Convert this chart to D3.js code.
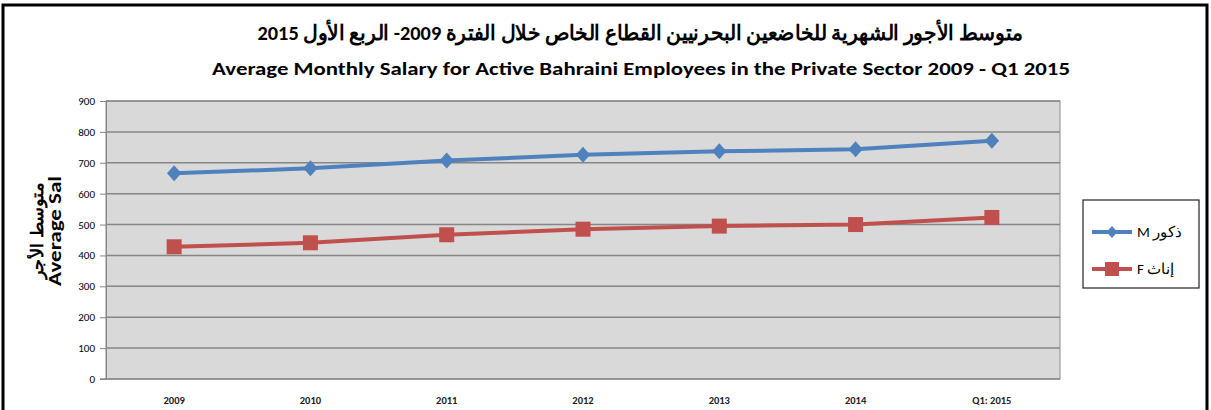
<!DOCTYPE html>
<html>
<head>
<meta charset="utf-8">
<script src="https://d3js.org/d3.v7.min.js"></script>
<style>
  body { margin: 0; background: #fff; }
  svg { display: block; }
</style>
</head>
<body>
<svg width="1211" height="410"></svg>
<script>
// data
const categories = ["2009", "2010", "2011", "2012", "2013", "2014", "Q1: 2015"];
const maleValues = [666, 682, 707, 726, 737, 744, 771];
const femaleValues = [428, 441, 467, 485, 495, 500, 523];
const yTicks = [0, 100, 200, 300, 400, 500, 600, 700, 800, 900];

const svg = d3.select("svg");
const font = "Calibri, 'Liberation Sans Narrow', 'Open Sans', sans-serif";

// outer frame
svg.append("path")
    .attr("d", "M3,410 V5 H1207 V410")
    .attr("fill", "none")
    .attr("stroke", "#000")
    .attr("stroke-width", 3);

const plot = {left: 106, right: 1060, top: 101, bottom: 379};

const x = d3.scaleBand().domain(categories).range([plot.left, plot.right]);
const y = d3.scaleLinear().domain([0, 900]).range([plot.bottom, plot.top]);

// plot background
svg.append("rect")
    .attr("x", plot.left).attr("y", plot.top)
    .attr("width", plot.right - plot.left).attr("height", plot.bottom - plot.top)
    .attr("fill", "#d9d9d9")
    .attr("stroke", "#8c8c8c");

// gridlines
svg.append("g").selectAll("line")
    .data(yTicks.filter(d => d > 0))
    .enter().append("line")
    .attr("x1", plot.left).attr("x2", plot.right)
    .attr("y1", d => y(d)).attr("y2", d => y(d))
    .attr("stroke", "#868686")
    .attr("stroke-width", 1.5);

// y axis
const yAxis = svg.append("g")
    .attr("transform", "translate(" + plot.left + ",0)")
    .call(d3.axisLeft(y).tickValues(yTicks).tickSize(6).tickPadding(5));
yAxis.select(".domain").attr("stroke", "#868686");
yAxis.selectAll(".tick line").attr("stroke", "#868686");
yAxis.selectAll("text").style("font-family", font).style("font-size", "11px").attr("fill", "#000");

// x axis line
svg.append("line")
    .attr("x1", plot.left - 6).attr("x2", plot.right)
    .attr("y1", plot.bottom).attr("y2", plot.bottom)
    .attr("stroke", "#868686").attr("stroke-width", 1.5);

svg.append("g").selectAll("text")
    .data(categories)
    .enter().append("text")
    .attr("x", d => x(d) + x.bandwidth() / 2)
    .attr("y", 404)
    .attr("text-anchor", "middle")
    .style("font-family", font)
    .style("font-size", "10.5px")
    .style("font-weight", "bold")
    .attr("fill", "#222")
    .text(d => d);

// lines
const line = d3.line()
    .x((d, i) => x(categories[i]) + x.bandwidth() / 2)
    .y(d => y(d));

svg.append("path").datum(femaleValues)
    .attr("d", line).attr("fill", "none")
    .attr("stroke", "#c0504d").attr("stroke-width", 4);
svg.append("path").datum(maleValues)
    .attr("d", line).attr("fill", "none")
    .attr("stroke", "#4f81bd").attr("stroke-width", 4);

svg.append("g").selectAll("rect")
    .data(femaleValues)
    .enter().append("rect")
    .attr("x", (d, i) => x(categories[i]) + x.bandwidth() / 2 - 7.5)
    .attr("y", d => y(d) - 7.5)
    .attr("width", 15).attr("height", 15)
    .attr("fill", "#c0504d");

// excel style diamond, a bit wider than d3's
const excelDiamond = {
    draw(context, size) {
        const h = Math.sqrt(size) / 2;
        context.moveTo(0, -h);
        context.lineTo(h * 0.9, 0);
        context.lineTo(0, h);
        context.lineTo(-h * 0.9, 0);
        context.closePath();
    }
};
const diamond = d3.symbol().type(excelDiamond).size(256);
svg.append("g").selectAll("path")
    .data(maleValues)
    .enter().append("path")
    .attr("d", diamond)
    .attr("transform", (d, i) => "translate(" + (x(categories[i]) + x.bandwidth() / 2) + "," + y(d) + ")")
    .attr("fill", "#4f81bd");

// titles
svg.append("text")
    .attr("x", 640).attr("y", 40)
    .attr("text-anchor", "middle")
    .style("font-family", font)
    .style("font-size", "21px")
    .style("font-weight", "bold")
    .attr("direction", "rtl")
    .attr("textLength", 765)
    .attr("lengthAdjust", "spacingAndGlyphs")
    .text("متوسط الأجور الشهرية للخاضعين البحرنيين القطاع الخاص  خلال الفترة 2009- الربع الأول 2015");

svg.append("text")
    .attr("x", 641).attr("y", 75)
    .attr("text-anchor", "middle")
    .style("font-family", font)
    .style("font-size", "19px")
    .style("font-weight", "bold")
    .attr("textLength", 858)
    .attr("lengthAdjust", "spacingAndGlyphs")
    .text("Average Monthly Salary for Active  Bahraini Employees in the Private Sector  2009  - Q1 2015");

// y axis title
const yt = svg.append("text")
    .attr("transform", "translate(48,231) rotate(-90)")
    .attr("text-anchor", "middle")
    .style("font-family", font)
    .style("font-size", "17px")
    .style("font-weight", "bold");
yt.append("tspan").attr("x", 0).attr("dy", -5).attr("direction", "rtl")
    .attr("textLength", 96).attr("lengthAdjust", "spacingAndGlyphs").text("متوسط الأجر");
yt.append("tspan").attr("x", 0).attr("dy", 18)
    .attr("textLength", 110).attr("lengthAdjust", "spacingAndGlyphs").text("Average Sal");

// legend
svg.append("rect")
    .attr("x", 1083).attr("y", 200)
    .attr("width", 116).attr("height", 88)
    .attr("fill", "#fff").attr("stroke", "#222").attr("stroke-width", 1.2);

const legendItems = [
    {label: "M ذكور", color: "#4f81bd", marker: "diamond", yy: 232},
    {label: "F إناث", color: "#c0504d", marker: "square", yy: 269}
];
legendItems.forEach(d => {
    svg.append("line")
        .attr("x1", 1092).attr("x2", 1132)
        .attr("y1", d.yy).attr("y2", d.yy)
        .attr("stroke", d.color).attr("stroke-width", 4);
    if (d.marker === "diamond") {
        svg.append("path").attr("d", d3.symbol().type(excelDiamond).size(144))
            .attr("transform", "translate(1112," + d.yy + ")")
            .attr("fill", d.color);
    } else {
        svg.append("rect")
            .attr("x", 1105).attr("y", d.yy - 7)
            .attr("width", 14).attr("height", 14)
            .attr("fill", d.color);
    }
    svg.append("text")
        .attr("x", 1137).attr("y", d.yy + 5)
        .style("font-family", font)
        .style("font-size", "15px")
        .text(d.label);
});
</script>
</body>
</html>
